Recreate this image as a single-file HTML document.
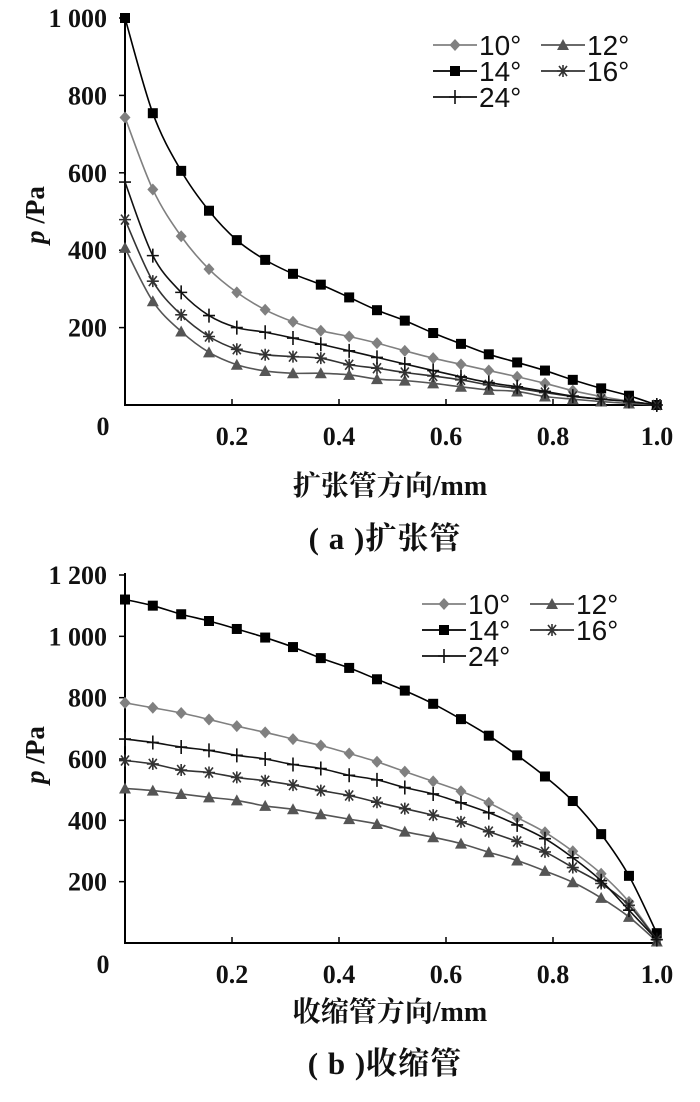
<!DOCTYPE html>
<html><head><meta charset="utf-8"><style>
body{margin:0;background:#fff}
svg text{font-family:"Liberation Serif","Noto Serif CJK SC",serif;font-weight:bold;fill:#111}
</style></head><body>
<svg id="s" width="700" height="1097" viewBox="0 0 700 1097" xmlns="http://www.w3.org/2000/svg"></svg>
<script>
const xs = [0,0.052,0.105,0.157,0.209,0.262,0.314,0.366,0.419,0.471,0.523,0.576,0.628,0.68,0.733,0.785,0.837,0.89,0.942,0.994];
const seriesNames = ["10°","12°","14°","16°","24°"];
const a10 = [743,557,436,351,291,246,215,192,177,160,140,121,105,89,73,56,37,22,10,0];
const a12 = [406,268,190,136,104,88,82,82,78,67,63,56,47,39,35,22,15,9,4,0];
const a14 = [1000,754,605,502,426,375,339,311,278,245,218,186,158,131,110,89,65,43,24,0];
const a16 = [479,320,233,177,144,130,125,121,104,95,84,75,65,52,43,32,22,15,9,0];
const a24 = [576,386,291,231,200,188,173,157,140,123,106,89,73,58,47,35,23,15,9,0];
const b10 = [783,767,750,729,707,687,665,644,618,591,559,527,495,457,409,361,299,226,134,11];
const b12 = [504,497,486,475,465,447,436,420,404,388,363,345,324,296,269,235,198,147,85,5];
const b14 = [1120,1100,1072,1050,1024,996,965,929,897,860,823,780,730,676,612,543,463,355,219,32];
const b16 = [595,584,564,556,540,529,515,497,481,459,438,417,395,363,331,297,246,194,123,11];
const b24 = [665,654,639,628,612,600,582,569,547,532,507,486,457,425,385,340,278,203,107,11];
const xTicks = [0.2,0.4,0.6,0.8,1.0];
const xTickLabels = ["0.2","0.4","0.6","0.8","1.0"];
const aYTicks = [200,400,600,800,1000];
const aYTickLabels = ["200","400","600","800","1 000"];
const bYTicks = [200,400,600,800,1000,1200];
const bYTickLabels = ["200","400","600","800","1 000","1 200"];

const NS="http://www.w3.org/2000/svg", svg=document.getElementById('s');
function el(t,at,p){const e=document.createElementNS(NS,t);for(const k in at)e.setAttribute(k,at[k]);(p||svg).appendChild(e);return e;}
const styles={"10°":{c:"#808080",m:"diamond"},"12°":{c:"#555",m:"tri"},"14°":{c:"#000",m:"square"},"16°":{c:"#333",m:"star"},"24°":{c:"#111",m:"plus"}};
function marker(g,m,x,y,c){
  let e;
  if(m==="diamond") e=el('path',{d:`M${x} ${y-6}L${x+5.5} ${y}L${x} ${y+6}L${x-5.5} ${y}Z`,fill:c},g);
  else if(m==="square") e=el('rect',{x:x-5,y:y-5,width:10,height:10,fill:c},g);
  else if(m==="tri") e=el('path',{d:`M${x} ${y-6}L${x+6} ${y+5}L${x-6} ${y+5}Z`,fill:c},g);
  else if(m==="plus") e=el('path',{d:`M${x-6} ${y}H${x+6}M${x} ${y-7}V${y+7}`,stroke:c,'stroke-width':1.6,fill:'none'},g);
  else e=el('path',{d:`M${x-6} ${y}H${x+6}M${x-4} ${y-5}L${x+4} ${y+5}M${x+4} ${y-5}L${x-4} ${y+5}M${x} ${y-6}V${y+6}`,stroke:c,'stroke-width':1.6,fill:'none'},g);
  
  
}
function smooth(p){let d=`M${p[0][0]} ${p[0][1]}`;for(let i=0;i<p.length-1;i++){const p0=p[i-1]||p[i],p1=p[i],p2=p[i+1],p3=p[i+2]||p2;
 d+=`C${p1[0]+(p2[0]-p0[0])/6} ${p1[1]+(p2[1]-p0[1])/6} ${p2[0]-(p3[0]-p1[0])/6} ${p2[1]-(p3[1]-p1[1])/6} ${p2[0]} ${p2[1]}`;}return d;}
function chart(cfg){
  const g=el('g',{});
  
  
  const X=v=>125+v*535, Y=v=>cfg.y0-(v/cfg.ymax)*(cfg.y0-cfg.ytop);
  const ax=el('path',{d:`M125 ${cfg.ytop-2}V${cfg.y0}H${X(1.0)}`,stroke:'#000','stroke-width':2,fill:'none'},g);
  
  
  cfg.yt.forEach((v,i)=>{el('line',{x1:119,x2:125,y1:Y(v),y2:Y(v),stroke:'#000','stroke-width':1.5},g);
    const t=el('text',{x:107,y:Y(v)+9,'font-size':26,'text-anchor':'end'},g);t.textContent=cfg.yl[i];
    
    });
  const z=el('text',{x:103,y:cfg.y0+30,'font-size':26,'text-anchor':'middle'},g);z.textContent="0";
  
  
  xTicks.forEach((v,i)=>{el('line',{x1:X(v),x2:X(v),y1:cfg.y0,y2:cfg.y0-6,stroke:'#000','stroke-width':1.5},g);
    const t=el('text',{x:X(v)+(v===1?-3:0),y:cfg.y0+40,'font-size':26,'text-anchor':'middle'},g);t.textContent=xTickLabels[i];
    
    });
  cfg.data.forEach((d,si)=>{const st=styles[seriesNames[si]];
    const sg=el('g',{},g);
    
    
    const pts=d.map((v,i)=>[X(xs[i]),Y(v)]);
    el('path',{d:smooth(pts),stroke:st.c,'stroke-width':1.6,fill:'none'},sg);
    pts.forEach(p=>marker(sg,st.m,p[0],p[1],st.c));});
  const lg=el('g',{},g);
  
  
  const pos=[[cfg.lx,cfg.ly],[cfg.lx+108,cfg.ly],[cfg.lx,cfg.ly+26],[cfg.lx+108,cfg.ly+26],[cfg.lx,cfg.ly+52]];
  seriesNames.forEach((n,i)=>{const st=styles[n],[x,y]=pos[i];
    const eg=el('g',{},lg);
    
    
    el('line',{x1:x,x2:x+44,y1:y,y2:y,stroke:st.c,'stroke-width':1.8},eg);
    marker(eg,st.m,x+22,y,st.c);
    const t=el('text',{x:x+46,y:y+10,'font-size':28,style:'font-weight:normal;font-family:"Liberation Sans",sans-serif'},eg);t.textContent=n;});
  const yt=el('text',{transform:`translate(44 ${cfg.ytitle}) rotate(-90)`,'font-size':27,'text-anchor':'middle'},g);
  yt.innerHTML='<tspan font-style="italic">p</tspan> /Pa';
  
  
  const xt=el('text',{x:390,y:cfg.xty,'font-size':28,'text-anchor':'middle'},g);xt.textContent=cfg.xtitle;
  
  
  const cp=el('text',{x:385,y:cfg.cy,'font-size':31,'text-anchor':'middle','letter-spacing':1},g);cp.textContent=cfg.cap;
  
  
}
chart({name:'chart-expansion',y0:405,ytop:18,ymax:1000,yt:aYTicks,yl:aYTickLabels,data:[a10,a12,a14,a16,a24],lx:433,ly:45,ytitle:215,xtitle:'扩张管方向/mm',xty:495,cap:'( a )扩张管',cy:549});
chart({name:'chart-contraction',y0:943,ytop:575,ymax:1200,yt:bYTicks,yl:bYTickLabels,data:[b10,b12,b14,b16,b24],lx:422,ly:604,ytitle:755,xtitle:'收缩管方向/mm',xty:1021,cap:'( b )收缩管',cy:1074});
</script>
</body></html>
